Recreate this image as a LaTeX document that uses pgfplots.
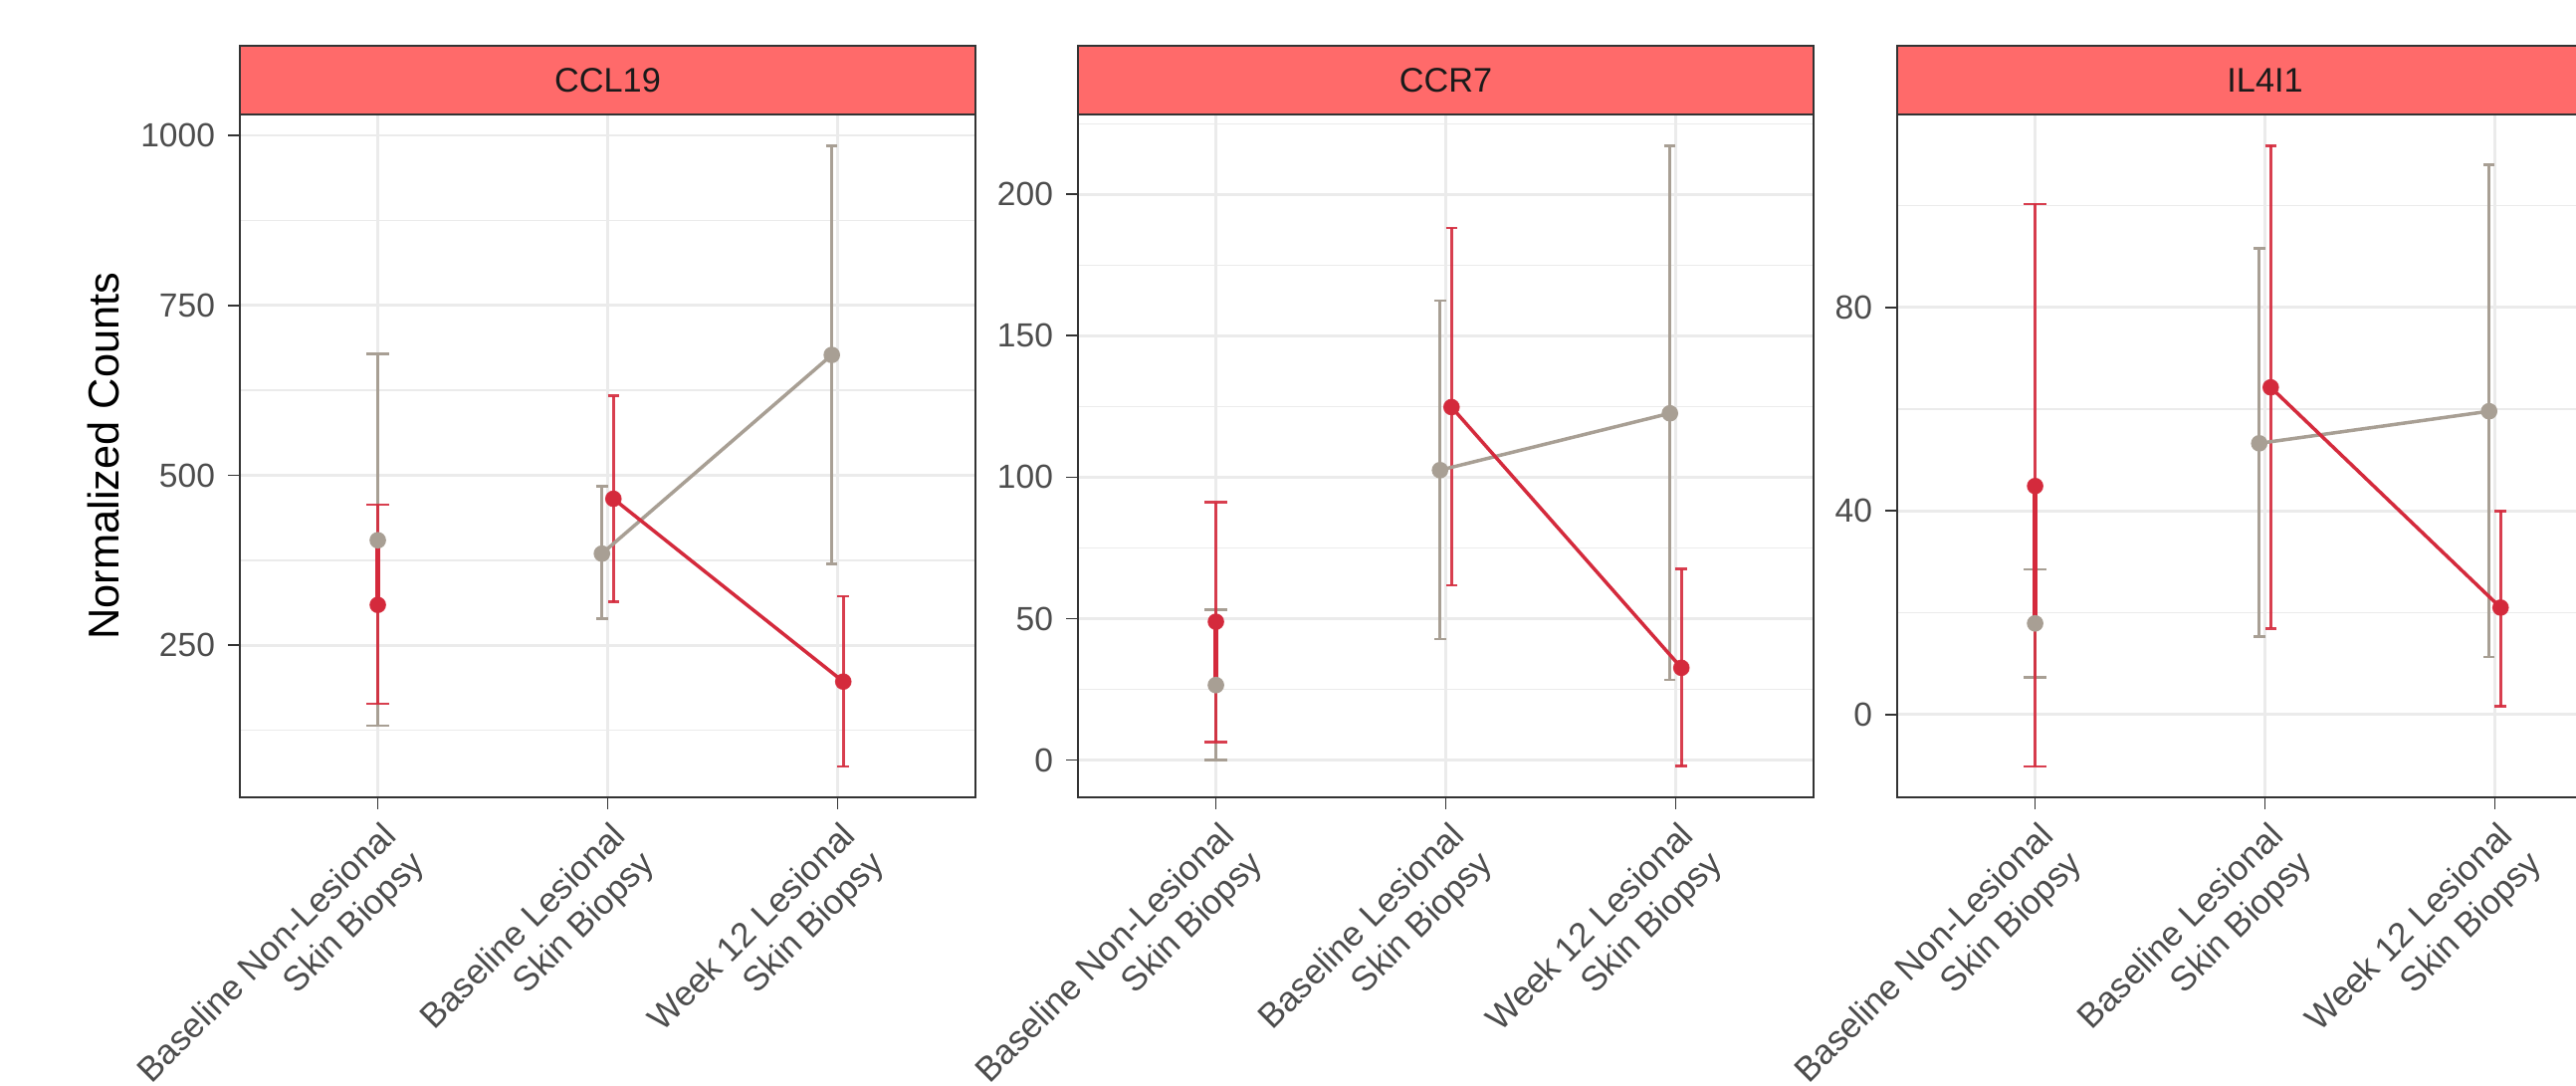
\documentclass[border=0pt]{standalone}
\usepackage{fontspec}
\setmainfont{Liberation Sans}
\usepackage{pgfplots}
\usepackage{pgfplotstable}
\pgfplotsset{compat=1.18}
\definecolor{gline}{HTML}{A89F94}
\definecolor{rline}{HTML}{D42A3C}
\definecolor{stripfill}{HTML}{FF6A6A}
\definecolor{grey20}{HTML}{333333}
\definecolor{grey30}{HTML}{4D4D4D}
\definecolor{grey10}{HTML}{1A1A1A}
\definecolor{gridc}{HTML}{EBEBEB}

% CCL19
\pgfplotstableread{
x y ep em
0 404.5 274.1 272.5
0.975 384.8 98.9 96.0
1.975 677.0 307.7 307.0
}\ccgrey
\pgfplotstableread{
x y ep em
0 309.4 147.6 145.4
1.025 465.5 151.5 151.5
2.025 196.6 125.8 124.6
}\ccred
% CCR7
\pgfplotstableread{
x y ep em
0 26.5 26.6 26.5
0.975 102.5 60.0 59.7
1.975 122.6 94.6 94.2
}\crgrey
\pgfplotstableread{
x y ep em
0 48.9 42.2 42.5
1.025 124.8 63.3 63.0
2.025 32.6 34.9 34.8
}\crred
% IL4I1
\pgfplotstableread{
x y ep em
0 17.9 10.6 10.6
0.975 53.3 38.3 38.0
1.975 59.6 48.5 48.3
}\ilgrey
\pgfplotstableread{
x y ep em
0 44.9 55.4 55.1
1.025 64.3 47.5 47.4
2.025 21.0 19.0 19.4
}\ilred

\pgfplotsset{
  panel/.style={
    width=211.31pt, height=196.1pt, scale only axis,
    anchor=south west,
    xmin=-0.6, xmax=2.6,
    xtick={0,1,2},
    xticklabels={{Baseline Non-Lesional\\Skin Biopsy},{Baseline Lesional\\Skin Biopsy},{Week 12 Lesional\\Skin Biopsy}},
    axis line style={grey20, line width=0.5pt},
    tick style={grey20, line width=0.5pt},
    tick align=outside,
    tick pos=left,
    major tick length=3.3pt,
    minor tick length=0pt,
    xmajorgrids, ymajorgrids, yminorgrids,
    major grid style={gridc, line width=0.8pt},
    minor grid style={gridc, line width=0.45pt},
    /pgf/number format/assume math mode=true,
    /pgf/number format/1000 sep={},
    yticklabel style={font=\fontsize{9.6}{11}\selectfont, text=grey30, anchor=east, inner sep=0pt, xshift=-3.65pt},
    xticklabel style={font=\fontsize{10}{11.4}\selectfont, text=grey30, inner sep=0pt, xshift=0.61pt, yshift=-2.92pt, rotate=45, anchor=north east, align=right},
  },
  ebase/.style={only marks, mark=none, forget plot, line width=0.75pt,
    error bars/y dir=both, error bars/y explicit,
    error bars/error mark=-,
    error bars/error bar style={line width=0.75pt}},
  ebarA/.style={ebase, skip coords between index={1}{3},
    error bars/error mark options={rotate=90, mark size=3.3pt, line width=0.75pt}},
  ebarB/.style={ebase, skip coords between index={0}{1},
    error bars/error mark options={rotate=90, mark size=1.65pt, line width=0.75pt}},
  conn/.style={mark=none, line width=1.0pt, forget plot},
  pts/.style={only marks, mark=*, mark size=2.0pt, forget plot},
}

\begin{document}
\begin{tikzpicture}
\useasboundingbox (0,0) rectangle (740pt,311.68pt);
\clip (0,0) rectangle (740pt,311.68pt);

% Panel 1 CCL19
\begin{axis}[panel, at={(68.91pt,82.64pt)},
  ymin=26.4, ymax=1030.3,
  ytick={250,500,750,1000},
  minor ytick={125,375,625,875}]
\addplot[ebarA, gline] table[x=x, y=y, y error plus=ep, y error minus=em] {\ccgrey};
\addplot[ebarB, gline] table[x=x, y=y, y error plus=ep, y error minus=em] {\ccgrey};
\addplot[ebarA, rline, opacity=0.9] table[x=x, y=y, y error plus=ep, y error minus=em] {\ccred};
\addplot[ebarB, rline, opacity=0.9] table[x=x, y=y, y error plus=ep, y error minus=em] {\ccred};
\addplot[conn, gline, skip coords between index={0}{1}] table[x=x, y=y] {\ccgrey};
\addplot[conn, rline, skip coords between index={0}{1}] table[x=x, y=y] {\ccred};
\addplot[conn, rline, line width=1.3pt] coordinates {(0,309.4) (0,404.5)};
\addplot[pts, gline] table[x=x, y=y] {\ccgrey};
\addplot[pts, rline] table[x=x, y=y] {\ccred};
\end{axis}

% Panel 2 CCR7
\begin{axis}[panel, at={(309.67pt,82.64pt)},
  ymin=-13.2, ymax=228.2,
  ytick={0,50,100,150,200},
  minor ytick={25,75,125,175,225}]
\addplot[ebarA, gline] table[x=x, y=y, y error plus=ep, y error minus=em] {\crgrey};
\addplot[ebarB, gline] table[x=x, y=y, y error plus=ep, y error minus=em] {\crgrey};
\addplot[ebarA, rline, opacity=0.9] table[x=x, y=y, y error plus=ep, y error minus=em] {\crred};
\addplot[ebarB, rline, opacity=0.9] table[x=x, y=y, y error plus=ep, y error minus=em] {\crred};
\addplot[conn, gline, skip coords between index={0}{1}] table[x=x, y=y] {\crgrey};
\addplot[conn, rline, skip coords between index={0}{1}] table[x=x, y=y] {\crred};
\addplot[conn, rline, line width=1.3pt] coordinates {(0,48.9) (0,26.5)};
\addplot[pts, gline] table[x=x, y=y] {\crgrey};
\addplot[pts, rline] table[x=x, y=y] {\crred};
\end{axis}

% Panel 3 IL4I1
\begin{axis}[panel, at={(545.0pt,82.64pt)},
  ymin=-16.3, ymax=117.9,
  ytick={0,40,80},
  minor ytick={20,60,100}]
\addplot[ebarA, gline] table[x=x, y=y, y error plus=ep, y error minus=em] {\ilgrey};
\addplot[ebarB, gline] table[x=x, y=y, y error plus=ep, y error minus=em] {\ilgrey};
\addplot[ebarA, rline, opacity=0.9] table[x=x, y=y, y error plus=ep, y error minus=em] {\ilred};
\addplot[ebarB, rline, opacity=0.9] table[x=x, y=y, y error plus=ep, y error minus=em] {\ilred};
\addplot[conn, gline, skip coords between index={0}{1}] table[x=x, y=y] {\ilgrey};
\addplot[conn, rline, skip coords between index={0}{1}] table[x=x, y=y] {\ilred};
\addplot[conn, rline, line width=1.3pt] coordinates {(0,44.9) (0,17.9)};
\addplot[pts, gline] table[x=x, y=y] {\ilgrey};
\addplot[pts, rline] table[x=x, y=y] {\ilred};
\end{axis}

% strips
\foreach \l/\lab in {68.91/CCL19, 309.67/CCR7, 545.0/IL4I1}{
  \draw[fill=stripfill, draw=grey20, line width=0.5pt] (\l pt,278.74pt) rectangle ++(211.31pt,19.86pt);
  \node[font=\fontsize{9.8}{11}\selectfont, text=grey10, inner sep=0pt] at (\l pt+105.655pt,288.67pt) {\lab};
}

% y label
\node[rotate=90, font=\fontsize{12.4}{14}\selectfont, text=black, inner sep=0pt] at (29.7pt,180.7pt) {Normalized Counts};
\end{tikzpicture}
\end{document}
